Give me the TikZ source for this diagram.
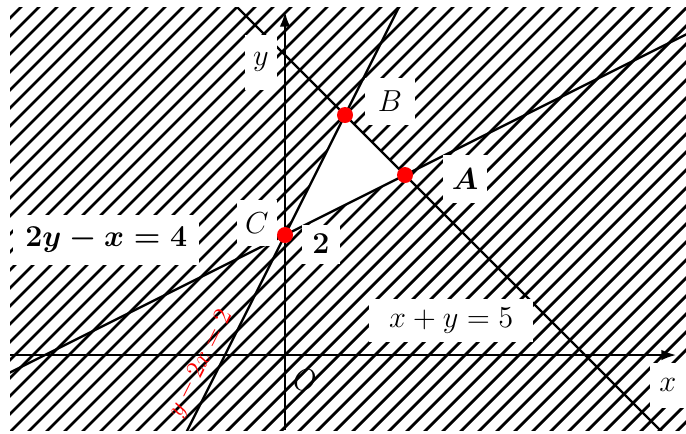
\documentclass[tikz,border=0pt]{standalone}
\usepackage{amsmath,amssymb}
\usetikzlibrary{arrows.meta,positioning,calc}
\definecolor{dotred}{HTML}{FF0000}
\tikzset{
  lbl/.style={fill=white,inner sep=0pt,font=\Large},
  blbl/.style={lbl,font=\Large\boldmath},
  bline/.style={line width=1.1pt,color=black},
  axis/.style={line width=1.1pt,color=black,-{Latex[length=7pt,width=5pt]}},
  hatch/.style={line width=1.3pt,color=black},
  pt/.style={circle,fill=dotred,minimum size=7.6pt,inner sep=0pt},
}
\begin{document}
\begin{tikzpicture}
  \useasboundingbox (-4.75,-1.3) rectangle (6.683,5.917);
  \coordinate (sw) at (-4.58,-1.25); \coordinate (ne) at (6.683,5.8);
  \coordinate (O) at (0,0);
  \coordinate (A) at (2,3); \coordinate (B) at (1,4); \coordinate (C) at (0,2);
  % hatched region outside the triangle
  \begin{scope}
    \clip (sw) rectangle (ne);
    \foreach \c in {-10.5,-10.2,...,8.1}
      \draw[hatch] (\c-2,-2) -- (\c+8,8);
    \fill[white] (A) -- (B) -- (C) -- cycle;
    \draw[bline] ($(C)!-2.5!(A)$) -- ($(C)!3.5!(A)$);
    \draw[bline] ($(B)!-2!(A)$) -- ($(B)!6!(A)$);
    \draw[bline] ($(C)!-2!(B)$) -- ($(C)!2!(B)$);
  \end{scope}
  \draw[axis] (sw |- O) -- (6.52,0);
  \draw[axis] (O |- sw) -- (0,5.72);
  \node[pt] (pA) at (A){}; \node[pt] (pB) at (B){}; \node[pt] (pC) at (C){};
  \node[lbl,minimum width=0.83cm,minimum height=0.78cm] (lB) at (1.75,4.23){$B$};
  \node[blbl,minimum width=0.73cm,minimum height=0.8cm] (lA) at (3.0,2.93){$A$};
  \node[lbl,minimum width=0.67cm,minimum height=0.78cm] (lC) at (-0.47,2.2){$C$};
  \node[blbl,minimum width=0.62cm,minimum height=0.65cm] (l2) at (0.6,1.85){$2$};
  \node[lbl,minimum width=0.53cm,minimum height=0.92cm] (ly) at (-0.4,4.88){$y$};
  \node[lbl,minimum width=0.6cm,minimum height=0.75cm] (lx) at (6.38,-0.5){$x$};
  \node[font=\Large] (lO) at (0.33,-0.42){$O$};
  \node[blbl,minimum width=3.1cm,minimum height=0.83cm] (eq1) at (-2.98,1.92){$2y-x=4$};
  \node[lbl,minimum width=2.73cm,minimum height=0.72cm] (eq2) at (2.77,0.57){$x+y=5$};
  \node[font=\large,text=dotred,rotate=63.4] (eq3) at (-1.4,-0.15){$y-2x=2$};
\end{tikzpicture}
\end{document}
